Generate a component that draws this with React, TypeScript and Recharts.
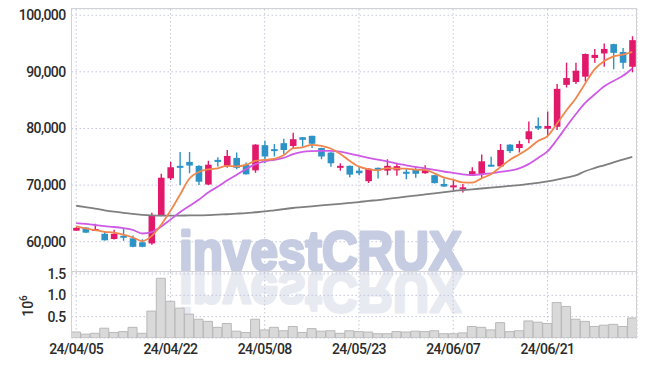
import { ComposedChart, Bar, Line, XAxis, YAxis, CartesianGrid } from 'recharts';

const dates = [
  '24/04/05', '24/04/08', '24/04/09', '24/04/11', '24/04/12', '24/04/15', '24/04/16', '24/04/17', '24/04/18', '24/04/19',
  '24/04/22', '24/04/23', '24/04/24', '24/04/25', '24/04/26', '24/04/29', '24/04/30', '24/05/02', '24/05/03', '24/05/07',
  '24/05/08', '24/05/09', '24/05/10', '24/05/13', '24/05/14', '24/05/16', '24/05/17', '24/05/20', '24/05/21', '24/05/22',
  '24/05/23', '24/05/24', '24/05/27', '24/05/28', '24/05/29', '24/05/30', '24/05/31', '24/06/03', '24/06/04', '24/06/05',
  '24/06/07', '24/06/10', '24/06/11', '24/06/12', '24/06/13', '24/06/14', '24/06/17', '24/06/18', '24/06/19', '24/06/20',
  '24/06/21', '24/06/24', '24/06/25', '24/06/26', '24/06/27', '24/06/28', '24/07/01', '24/07/02', '24/07/03', '24/07/04',
];

const opens = [
  61950, 62500, 61900, 61400, 60480, 61050, 60600, 59900, 59700, 64600,
  71200, 73400, 74100, 73400, 70100, 74450, 73400, 74800, 73600, 72600,
  77050, 76350, 77400, 76900, 78450, 78700, 76550, 75750, 73050, 73400,
  72550, 70700, 73050, 72550, 72600, 72350, 72700, 72100, 71750, 70200,
  69850, 69450, 71650, 72000, 73600, 73300, 77150, 76550, 78100, 80450,
  79950, 80300, 87700, 88200, 89150, 92450, 93250, 94900, 93500, 90900,
];
const highs = [
  62600, 62550, 63150, 61700, 62100, 62350, 61100, 60450, 65100, 72000,
  74100, 75850, 75850, 73500, 74300, 74900, 76200, 75750, 74000, 77200,
  77850, 77250, 78200, 79250, 78500, 78700, 76600, 75800, 73850, 73450,
  73250, 73000, 73100, 74550, 73950, 72900, 73250, 73500, 71800, 71150,
  70900, 70200, 73150, 75400, 75000, 77250, 77200, 77850, 81250, 81950,
  83000, 87850, 91600, 91600, 93250, 94050, 95000, 94950, 94200, 96300,
];
const lows = [
  61900, 61550, 61900, 60200, 60400, 60150, 59000, 59000, 59450, 64500,
  70900, 70000, 72100, 70000, 70000, 73300, 73050, 72800, 71850, 72200,
  73850, 75050, 75500, 76450, 76800, 76550, 74550, 73250, 72550, 71400,
  71750, 70350, 71150, 71750, 71650, 71050, 71300, 72000, 70300, 69700,
  69150, 68700, 71600, 71300, 73300, 73200, 75650, 75750, 77400, 79750,
  78800, 79750, 87250, 87850, 88300, 91600, 90900, 90450, 90550, 89950,
];
const closes = [
  62450, 61600, 62250, 60250, 61400, 60700, 59100, 59100, 64600, 71300,
  73150, 73100, 73450, 70600, 73600, 74100, 75150, 73050, 71900, 77150,
  75050, 76000, 76200, 78100, 78000, 77300, 75050, 73850, 73400, 71850,
  72100, 72900, 72800, 73400, 73350, 72000, 72000, 72700, 70350, 69750,
  69950, 69600, 72450, 74200, 73400, 76200, 76000, 77250, 79500, 80000,
  80450, 87000, 88900, 90200, 93150, 93000, 94050, 93350, 91600, 95600,
];

// volume in units of 10^6 shares
const volumes = [
  0.14, 0.09, 0.11, 0.23, 0.13, 0.15, 0.25, 0.11, 0.63, 1.40,
  0.86, 0.70, 0.56, 0.44, 0.39, 0.25, 0.34, 0.16, 0.13, 0.44,
  0.19, 0.25, 0.17, 0.27, 0.13, 0.22, 0.16, 0.17, 0.11, 0.17,
  0.15, 0.14, 0.10, 0.10, 0.15, 0.14, 0.16, 0.15, 0.17, 0.10,
  0.10, 0.12, 0.27, 0.25, 0.19, 0.36, 0.15, 0.17, 0.40, 0.37,
  0.34, 0.83, 0.74, 0.44, 0.39, 0.27, 0.30, 0.32, 0.27, 0.47,
];

const ma5 = [
  62700, 62350, 62050, 61750, 61600, 61240, 60740, 60110, 60980, 62960,
  65450, 68250, 71120, 72320, 72780, 72970, 73380, 73300, 73560, 74270,
  74460, 74630, 75260, 76500, 76670, 77120, 76930, 76460, 75520, 74290,
  73250, 72820, 72610, 73010, 72910, 72890, 72710, 72690, 72080, 71360,
  70950, 70470, 70420, 71190, 71920, 73170, 74450, 75410, 76470, 77790,
  78640, 80840, 83170, 85310, 87940, 90450, 91860, 92750, 93030, 93520,
];
const ma20 = [
  63300, 63150, 62950, 62750, 62600, 62400, 62100, 61450, 61700, 62650,
  63900, 65200, 66300, 67400, 68700, 69700, 70800, 71800, 72800, 73700,
  74200, 74450, 74800, 75450, 75850, 76000, 76050, 76050, 75900, 75550,
  75200, 74800, 74500, 74200, 73800, 73500, 73200, 72950, 72700, 72400,
  72150, 71900, 71800, 71900, 72050, 72350, 72550, 72950, 73700, 74800,
  75950, 78000, 80300, 82500, 84500, 86000, 87400, 88400, 89300, 90600,
];
const ma60 = [
  66350, 66100, 65850, 65550, 65300, 65100, 64900, 64750, 64650, 64600,
  64600, 64600, 64650, 64650, 64700, 64800, 64850, 64950, 65050, 65200,
  65350, 65550, 65750, 65950, 66100, 66250, 66400, 66550, 66700, 66850,
  67000, 67200, 67350, 67550, 67750, 67950, 68150, 68350, 68550, 68750,
  68950, 69100, 69250, 69400, 69550, 69700, 69850, 70000, 70200, 70400,
  70650, 70950, 71300, 71700, 72450, 73000, 73500, 74000, 74500, 75000,
];

const priceTicks = [60000, 70000, 80000, 90000, 100000];
const volumeTicks = [0.5, 1.0, 1.5];

const UP = '#e2186b';
const DOWN = '#2d92c5';
const GRID = '#c3c6da';
const FRAME = '#d2d2d6';

const chartData = dates.map((date, i) => ({
  date,
  open: opens[i],
  high: highs[i],
  low: lows[i],
  close: closes[i],
  range: [lows[i], highs[i]],
  volume: volumes[i],
  ma5: ma5[i],
  ma20: ma20[i],
  ma60: ma60[i],
}));

const tickStyle = {
  fill: '#2b2b2b',
  fontSize: 14,
  fontFamily: 'Roboto, sans-serif',
  fontWeight: 500,
  style: { letterSpacing: '-0.6px' },
};

const Candle = (props: any) => {
  const { x, y, width, height, payload } = props;
  if (!payload) return null;
  const { open, close, high, low } = payload;
  const top = Math.min(y, y + height);
  const h = Math.abs(height);
  const k = high === low ? 0 : h / (high - low);
  const py = (v: number) => top + (high - v) * k;
  const cx = x + width / 2;
  const color = close >= open ? UP : DOWN;
  const bTop = py(Math.max(open, close));
  const bH = Math.max(py(Math.min(open, close)) - bTop, 2);
  const bw = 6.6;
  return (
    <g>
      <line x1={cx} x2={cx} y1={top} y2={top + h} stroke={color} strokeWidth={1.4} />
      <rect x={cx - bw / 2} y={bTop} width={bw} height={bH} fill={color} />
    </g>
  );
};

// volume chart svg starts 10px above the pane, so the unit sits at page y ~305
const VolumeUnit = () => (
  <text
    x={33}
    y={44}
    transform="rotate(-90, 33, 44)"
    textAnchor="middle"
    fill="#2b2b2b"
    fontSize={14}
    fontFamily="Roboto, sans-serif"
    fontWeight={500}
  >
    10<tspan dy={-6} fontSize={10}>6</tspan>
  </text>
);

const markStyle = {
  fontSize: 56,
  fontWeight: 700,
  fontFamily: 'Liberation Sans, Arial, sans-serif',
  strokeWidth: 3,
  strokeLinejoin: 'round' as const,
};

const App = () => {
  return (
    <div style={{ position: 'absolute', left: 0, top: 0, width: 645, height: 366, background: '#fff' }}>
      <svg width={645} height={366} style={{ position: 'absolute', left: 0, top: 0 }}>
        <text x={179} y={270} {...markStyle} textLength={283} lengthAdjust="spacingAndGlyphs"
          fill="#c6cde3" stroke="#c6cde3">investCRUX</text>
        <text x={179} y={270} {...markStyle} textLength={283} lengthAdjust="spacingAndGlyphs"
          fill="#e8eaf1" stroke="#e8eaf1" transform="translate(0, 544) scale(1, -1)">investCRUX</text>
      </svg>

      <div style={{ position: 'absolute', left: 0, top: 0 }}>
        <ComposedChart width={645} height={272} data={chartData} margin={{ top: 9, right: 8, bottom: 0, left: 0 }}>
          <CartesianGrid stroke={GRID} strokeDasharray="1.5 2.5" />
          <XAxis dataKey="date" hide interval={9} />
          <YAxis
            width={71.5}
            domain={[54650, 101100]}
            allowDataOverflow
            ticks={priceTicks}
            interval={0}
            tickFormatter={(v: number) => v.toLocaleString('en-US')}
            axisLine={false}
            tickLine={false}
            tickSize={4}
            tickMargin={2}
            tick={tickStyle}
          />
          <Bar dataKey="range" shape={(p: any) => <Candle {...p} />} isAnimationActive={false} />
          <Line type="monotone" dataKey="ma60" stroke="#7f7f7f" strokeWidth={1.8} dot={false} isAnimationActive={false} />
          <Line type="monotone" dataKey="ma20" stroke="#cf5ae6" strokeWidth={1.8} dot={false} isAnimationActive={false} />
          <Line type="monotone" dataKey="ma5" stroke="#f0874d" strokeWidth={1.8} dot={false} isAnimationActive={false} />
        </ComposedChart>
      </div>

      <div style={{ position: 'absolute', left: 0, top: 262 }}>
        <ComposedChart width={645} height={104} data={chartData} margin={{ top: 10, right: 8, bottom: 0, left: 0 }} barCategoryGap={0}>
          <CartesianGrid stroke={GRID} strokeDasharray="1.5 2.5" />
          <XAxis
            dataKey="date"
            interval={9}
            height={28}
            axisLine={false}
            tickLine={false}
            tickSize={0}
            tickMargin={6}
            tick={tickStyle}
          />
          <YAxis
            width={71.5}
            domain={[0, 1.547]}
            allowDataOverflow
            ticks={volumeTicks}
            interval={0}
            tickFormatter={(v: number) => v.toFixed(1)}
            axisLine={false}
            tickLine={false}
            tickSize={4}
            tickMargin={2}
            tick={tickStyle}
            label={<VolumeUnit />}
          />
          <Bar dataKey="volume" fill="#d9d9d9" stroke="#b9b9b9" strokeWidth={1} isAnimationActive={false} />
        </ComposedChart>
      </div>

      <div style={{ position: 'absolute', left: 71, top: 8, width: 566, height: 264, boxSizing: 'border-box',
        borderLeft: `1px solid ${FRAME}`, borderRight: `1px solid ${FRAME}`, borderTop: `1px solid ${FRAME}`,
        borderBottom: `1px solid ${FRAME}`, pointerEvents: 'none' }} />
      <div style={{ position: 'absolute', left: 71, top: 272, width: 566, height: 66, boxSizing: 'border-box',
        borderLeft: `1px solid ${FRAME}`, borderRight: `1px solid ${FRAME}`, pointerEvents: 'none' }} />
    </div>
  );
};

export default App;
